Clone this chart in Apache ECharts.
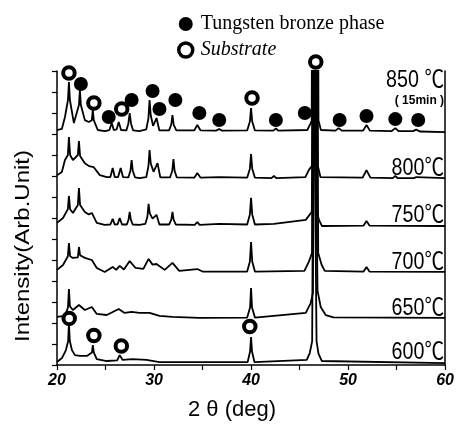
<!DOCTYPE html>
<html>
<head>
<meta charset="utf-8">
<script src="https://cdn.jsdelivr.net/npm/echarts@6/dist/echarts.min.js"></script>
<style>
  html, body { margin: 0; padding: 0; background: #fff; }
  #main { width: 457px; height: 427px; }
</style>
</head>
<body>
<div id="main"></div>
<script>
// XRD scans, [2theta, intensity above the scan's own baseline]
var tempLabels = ['850 ℃', '800℃', '750℃', '700℃', '650℃', '600℃']
var baselines = [11.14, 8.9, 6.67, 4.43, 2.24, 0.14]

var scan850 = [[20,0.05],[20.5,0.1],[20.82,0.67],[21.13,1.48],[21.23,2.33],[21.33,1.48],[21.74,0.38],[22.26,1.24],[22.36,1.95],[22.46,1.24],[22.87,0.52],[23.28,0.43],[23.59,0.52],[23.69,1.0],[23.79,0.52],[24.2,0.05],[24.92,0],[25.4,0.05],[25.64,0.38],[25.85,0.05],[26.15,0.08],[26.36,0.43],[26.6,0.05],[27.15,0.03],[27.35,0.35],[27.49,0.86],[27.63,0.35],[27.85,0.03],[28.5,0],[29.2,0.08],[29.42,0.6],[29.54,1.48],[29.66,0.75],[29.9,0.25],[30.26,0.62],[30.55,0.03],[31.55,0.03],[31.77,0.3],[31.9,0.76],[32.03,0.3],[32.3,0.03],[34.15,0.03],[34.46,0.29],[34.8,0.03],[36.4,0.02],[36.72,0.1],[37.0,0.02],[39.6,0.03],[39.88,0.45],[40.0,1.1],[40.12,0.45],[40.4,0.03],[42.3,0.02],[42.56,0.12],[42.8,0.02],[45.8,0.05],[46.15,0.38],[46.25,0.5],[46.35,16],[46.85,16],[46.95,0.5],[47.2,0.05],[48.7,0.02],[49.03,0.14],[49.35,0.02],[51.55,0.02],[51.9,0.29],[52.25,0.02],[54.5,0],[54.87,0.14],[55.2,0],[56.7,0],[57.03,0.07],[57.4,-0.02],[60,-0.05]]
var scan800 = [[20,0.14],[20.5,0.29],[20.82,0.86],[21.12,1.1],[21.23,1.95],[21.35,1.1],[21.64,0.86],[22.15,1.1],[22.26,1.76],[22.38,1.05],[22.87,0.71],[23.3,0.57],[23.79,0.52],[24.41,0.14],[25.13,0.05],[25.5,0.05],[25.74,0.48],[25.95,0.05],[26.3,0.05],[26.56,0.48],[26.8,0.05],[27.35,0.03],[27.57,0.35],[27.69,0.86],[27.81,0.35],[28.05,0.03],[28.5,0],[29.2,0.05],[29.42,0.55],[29.54,1.33],[29.66,0.7],[29.95,0.3],[30.36,0.71],[30.65,0.03],[31.65,0.03],[31.88,0.35],[32.0,0.9],[32.12,0.35],[32.35,0.03],[34.15,0.02],[34.46,0.24],[34.8,0.02],[36.72,0.05],[39.6,0.02],[39.88,0.45],[40.0,1.14],[40.12,0.45],[40.4,0.02],[42.1,0],[42.36,0.1],[42.6,0],[45.6,0.05],[45.95,0.38],[46.3,0.6],[46.45,16],[46.75,16],[46.88,0.6],[47.15,0.05],[51.5,0.02],[51.9,0.38],[52.3,0.02],[54.6,0],[54.87,0.1],[55.1,0],[56.8,0],[57.03,0.05],[60,0]]
var scan750 = [[20,0.1],[20.62,0.33],[21.12,0.75],[21.23,1.38],[21.35,0.75],[21.64,0.57],[22.15,0.95],[22.26,1.76],[22.38,0.95],[22.87,0.62],[23.28,0.5],[23.59,0.57],[24.1,0.1],[24.92,0],[25.5,0.02],[25.74,0.29],[25.95,0.02],[26.25,0.03],[26.46,0.33],[26.7,0.02],[27.2,0.02],[27.37,0.25],[27.49,0.62],[27.61,0.25],[27.8,0.02],[28.5,0],[29.1,0.05],[29.32,0.4],[29.44,1.0],[29.56,0.55],[29.85,0.3],[30.26,0.48],[30.55,0.02],[31.55,0.02],[31.78,0.25],[31.9,0.62],[32.02,0.25],[32.25,0.02],[34.2,0],[34.46,0.14],[34.7,0],[36.72,0.05],[39.6,0.02],[39.88,0.5],[40.0,1.29],[40.12,0.5],[40.4,0.02],[42.36,0.05],[45.64,0.24],[46.26,0.62],[46.4,0.7],[46.55,16],[46.65,16],[46.8,0.6],[47.0,0.24],[47.3,-0.05],[51.6,-0.03],[51.9,0.19],[52.2,-0.03],[60,-0.05]]
var scan700 = [[20,0.1],[20.62,0.33],[21.12,0.75],[21.23,1.38],[21.35,0.75],[21.64,0.67],[22.15,0.7],[22.26,1.19],[22.38,0.8],[22.87,0.67],[23.59,0.57],[24.1,0.19],[24.92,0],[25.74,0.24],[26.1,0.1],[26.46,0.29],[26.9,0.12],[27.49,0.52],[28.1,0.19],[28.9,0.15],[29.44,0.62],[29.85,0.35],[30.26,0.38],[31.1,0.1],[31.9,0.43],[32.6,0.05],[34.46,0.14],[35,0.02],[39.6,0.02],[39.88,0.5],[40.0,1.43],[40.12,0.5],[40.4,0.02],[45.5,0.05],[45.95,0.48],[46.28,0.9],[46.4,16],[46.8,16],[46.92,0.9],[47.28,0.33],[47.6,0.05],[51.6,0.02],[51.9,0.24],[52.2,0.02],[60,0]]
var scan650 = [[20,0.05],[20.82,0.1],[21.13,0.5],[21.23,1.38],[21.33,0.55],[21.64,0.38],[22.26,0.62],[22.87,0.38],[23.59,0.52],[24.1,0.19],[25.13,0.14],[26.36,0.43],[26.97,0.24],[27.69,0.29],[28.51,0.24],[29.54,0.24],[30.56,0.1],[31.9,0.05],[34.67,0],[39.6,0.02],[39.9,0.5],[40.0,1.43],[40.1,0.5],[40.4,0.02],[45.64,0.24],[46.15,0.71],[46.38,1.2],[46.5,16],[46.7,16],[46.85,1.3],[47.18,0.52],[47.69,0.14],[48.5,0.03],[60,0]]
var scan600 = [[20,0],[20.51,0.19],[20.92,0.57],[21.15,1.0],[21.23,1.86],[21.32,1.0],[21.54,0.57],[21.85,0.33],[22.36,0.29],[23.08,0.29],[23.6,0.45],[23.69,0.81],[23.8,0.45],[24.1,0.14],[25.13,0.05],[26.2,0.08],[26.46,0.33],[26.77,0.1],[27.79,0.14],[29.23,0.1],[30.56,0],[39.65,0],[39.9,0.5],[40.0,1.19],[40.1,0.5],[40.35,0],[45.74,0.1],[46.05,0.43],[46.3,1.0],[46.45,16],[46.6,16],[46.75,1.0],[46.95,0.4],[47.3,0.05],[60,-0.05]]
var scans = [scan850, scan800, scan750, scan700, scan650, scan600]

// phase markers, [2theta, plot height]
var bronzeMarks = [[22.46,13.38],[25.33,11.81],[27.69,12.62],[29.85,13.05],[30.56,12.19],[32.2,12.62],[34.67,12.0],[36.72,11.67],[42.56,11.67],[45.54,12.0],[49.13,11.67],[51.9,11.86],[54.87,11.71],[57.23,11.67]]
var substrateMarks = [[21.23,13.9],[23.8,12.48],[26.67,12.19],[40.1,12.71],[46.67,14.43],[21.26,2.22],[23.8,1.4],[26.63,0.9],[39.87,1.83]]

var chart = echarts.init(document.getElementById('main'))

var series = scans.map(function (scan, i) {
  return {
    type: 'line',
    name: tempLabels[i],
    data: scan.map(function (p) { return [p[0], p[1] + baselines[i]] }),
    showSymbol: false,
    symbol: 'none',
    lineStyle: { color: '#000', width: 1.8 },
    silent: true,
    z: 2
  }
})
series.push({
  type: 'scatter', name: 'Tungsten bronze phase', data: bronzeMarks,
  symbolSize: 14, clip: false, z: 4,
  itemStyle: { color: '#000', opacity: 1 }
})
series.push({
  type: 'scatter', name: 'Substrate', data: substrateMarks,
  symbolSize: 11.5, clip: false, z: 4,
  itemStyle: { color: '#fff', borderColor: '#000', borderWidth: 4, opacity: 1 }
})

var option = {
  animation: false,
  backgroundColor: '#fff',
  grid: { left: 57, right: 10, top: 71, bottom: 62 },
  legend: {
    orient: 'vertical', left: 172, top: 9,
    itemWidth: 20, itemHeight: 14, itemGap: 6,
    textStyle: { fontFamily: 'Liberation Serif', fontSize: 20, color: '#000' },
    data: [
      { name: 'Tungsten bronze phase' },
      { name: 'Substrate', textStyle: { fontStyle: 'italic' }, itemStyle: { borderWidth: 3.5 } }
    ]
  },
  xAxis: {
    type: 'value', min: 20, max: 60, interval: 5,
    axisLine: { lineStyle: { color: '#000', width: 1.5 } },
    axisTick: { length: 5, lineStyle: { color: '#000', width: 1.2 } },
    splitLine: { show: false },
    axisLabel: {
      formatter: function (v) { return v % 10 === 0 ? v : '' },
      color: '#000', fontSize: 16, fontWeight: 'bold', fontStyle: 'italic',
      fontFamily: 'Liberation Sans', margin: 8
    }
  },
  yAxis: [{
    type: 'value', min: 0, max: 14, interval: 1,
    axisLine: { show: true, lineStyle: { color: '#000', width: 1.5 } },
    axisTick: { show: true, length: 5, lineStyle: { color: '#000', width: 1.2 } },
    axisLabel: { show: false },
    splitLine: { show: false }
  }, {
    type: 'value', min: 0, max: 14, position: 'right',
    axisLine: { show: true, lineStyle: { color: '#000', width: 1.5 } },
    axisTick: { show: false }, axisLabel: { show: false }, splitLine: { show: false }
  }],
  series: series
}
chart.setOption(option)

// axis titles
var texts = [{
  type: 'text', x: 232, y: 410, z: 10,
  style: {
    text: '2 θ (deg)', fill: '#000', font: '22px "Liberation Sans"',
    textAlign: 'center', textVerticalAlign: 'middle', align: 'center', verticalAlign: 'middle'
  }
}, {
  type: 'text', x: 23, y: 246, rotation: Math.PI / 2, scaleY: 0.85, z: 10,
  style: {
    text: 'Intensity(Arb.Unit)', fill: '#000', font: '24px "Liberation Sans"',
    textAlign: 'center', textVerticalAlign: 'middle', align: 'center', verticalAlign: 'middle'
  }
}]

// temperature labels sit on the right end of each scan
tempLabels.forEach(function (t, i) {
  var lift = i === 0 ? 1.95 : 0
  var p = chart.convertToPixel({ gridIndex: 0 }, [60, baselines[i] + lift])
  texts.push({
    type: 'text', x: p[0] - 1, y: p[1] + 2, scaleX: 0.82, z: 10,
    style: {
      text: t, fill: '#000', font: '24px "Liberation Sans", "Noto Sans CJK SC"',
      textAlign: 'right', textVerticalAlign: 'bottom', align: 'right', verticalAlign: 'bottom'
    }
  })
})
var p0 = chart.convertToPixel({ gridIndex: 0 }, [60, baselines[0] + 1.45])
texts.push({
  type: 'text', x: p0[0] - 1, y: p0[1], z: 10,
  style: {
    text: '( 15min )', fill: '#000', font: 'bold 12px "Liberation Sans"',
    textAlign: 'right', textVerticalAlign: 'middle', align: 'right', verticalAlign: 'middle'
  }
})
chart.setOption({ graphic: texts })
</script>
</body>
</html>
